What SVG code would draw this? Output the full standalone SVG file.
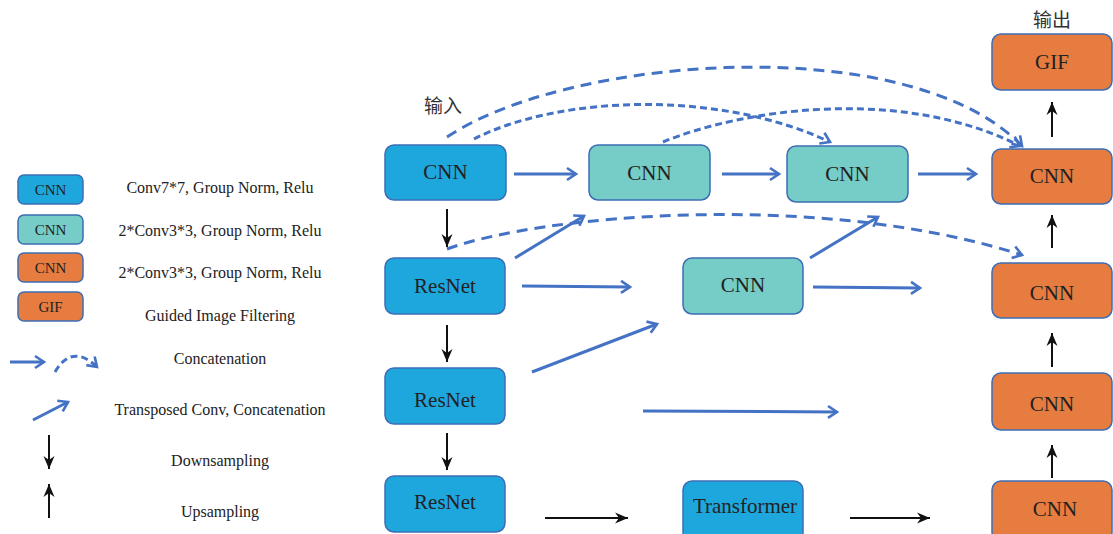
<svg xmlns="http://www.w3.org/2000/svg" width="1113" height="534" viewBox="0 0 1113 534">
<defs>
<marker id="chev" markerUnits="userSpaceOnUse" markerWidth="16" markerHeight="16" refX="12" refY="8" orient="auto"><path d="M3,2 L12,8 L3,14" fill="none" stroke="#4472C4" stroke-width="2.6"/></marker>
<marker id="tri" markerUnits="userSpaceOnUse" markerWidth="14" markerHeight="16" refX="13" refY="8" orient="auto"><path d="M0,2.5 L13,8 L0,13.5 L4,8 Z" fill="#111"/></marker>
<style>
.b{fill:#1EA7DD;stroke:#3D6DB5;stroke-width:1.5}
.t{fill:#76CCC6;stroke:#3D6DB5;stroke-width:1.5}
.o{fill:#E67C3F;stroke:#3D6DB5;stroke-width:1.5}
.nt{font-family:"Liberation Serif",serif;font-size:21px;fill:#222;text-anchor:middle;dominant-baseline:central}
.lt{font-family:"Liberation Serif",serif;font-size:15px;fill:#222;text-anchor:middle;dominant-baseline:central}
.ld{font-family:"Liberation Serif",serif;font-size:16px;fill:#222;text-anchor:middle;dominant-baseline:central}
.cj{font-family:"Noto Sans CJK SC",sans-serif;font-size:19px;fill:#333;text-anchor:middle}
.ba{stroke:#4472C4;stroke-width:3;fill:none;marker-end:url(#chev)}
.da{stroke:#4472C4;stroke-width:3;fill:none;stroke-dasharray:11,7;marker-end:url(#chev)}
.ds{stroke:#4472C4;stroke-width:3;fill:none;stroke-dasharray:7,4;marker-end:url(#chev)}
.ka{stroke:#111;stroke-width:2;fill:none;marker-end:url(#tri)}
</style>
</defs>
<rect width="1113" height="534" fill="#fff"/>

<g id="legend">
<rect x="18" y="175" width="65" height="29" rx="6" class="b"/><text x="50.5" y="190" class="lt">CNN</text>
<rect x="18" y="215" width="65" height="29" rx="6" class="t"/><text x="50.5" y="230" class="lt">CNN</text>
<rect x="18" y="253" width="65" height="29" rx="6" class="o"/><text x="50.5" y="268" class="lt">CNN</text>
<rect x="18" y="292" width="65" height="29" rx="6" class="o"/><text x="50.5" y="307" class="lt">GIF</text>
<text x="220" y="187" class="ld">Conv7*7, Group Norm, Relu</text>
<text x="220" y="230" class="ld">2*Conv3*3, Group Norm, Relu</text>
<text x="220" y="272" class="ld">2*Conv3*3, Group Norm, Relu</text>
<text x="220" y="315" class="ld">Guided Image Filtering</text>
<text x="220" y="358" class="ld">Concatenation</text>
<text x="220" y="409" class="ld">Transposed Conv, Concatenation</text>
<text x="220" y="460" class="ld">Downsampling</text>
<text x="220" y="511" class="ld">Upsampling</text>
<path d="M10,362 L44,362" class="ba"/>
<path d="M55,372 Q72,343 97,367" class="ds" stroke-width="2" stroke-dasharray="5,3"/>
<path d="M33,420 L68,402" class="ba"/>
<path d="M49,435 L49,469" class="ka"/>
<path d="M49,518 L49,484" class="ka"/>
</g>

<text x="443" y="113" class="cj">输入</text>
<text x="1052" y="27" class="cj">输出</text>

<g id="connectors">
<path d="M514,174 L576,174" class="ba"/>
<path d="M722,174 L779,174" class="ba"/>
<path d="M918,174 L976,174" class="ba"/>
<path d="M522,286 L630,287" class="ba"/>
<path d="M515,258 L584,216" class="ba"/>
<path d="M532,372 L657,324" class="ba"/>
<path d="M643,411 L837,412" class="ba"/>
<path d="M810,258 L878,217" class="ba"/>
<path d="M813,287 L920,288" class="ba"/>
<path d="M447,209 L447,247" class="ka"/>
<path d="M447,325 L447,362" class="ka"/>
<path d="M447,433 L447,470" class="ka"/>
<path d="M545,518 L628,518" class="ka"/>
<path d="M850,518 L930,518" class="ka"/>
<path d="M1052,137 L1052,102" class="ka"/>
<path d="M1052,248 L1052,215" class="ka"/>
<path d="M1052,367 L1052,333" class="ka"/>
<path d="M1052,478 L1052,445" class="ka"/>
<path d="M447,137 C570,55 910,30 1022,146" class="da"/>
<path d="M474,139 C560,95 720,90 830,142" class="ds"/>
<path d="M663,142 C740,110 900,85 1020,146" class="ds"/>
<path d="M447,249 C540,215 820,190 1022,255" class="da"/>
</g>

<g id="n_cnn_in"><rect x="385" y="145" width="121" height="55" rx="9" class="b"/><text x="445.5" y="172" class="nt">CNN</text></g>
<g id="n_teal1"><rect x="589" y="145" width="121" height="55" rx="9" class="t"/><text x="649.5" y="173" class="nt">CNN</text></g>
<g id="n_teal2"><rect x="787" y="146" width="121" height="56" rx="9" class="t"/><text x="847.5" y="174" class="nt">CNN</text></g>
<g id="n_out1"><rect x="992" y="149" width="120" height="55" rx="9" class="o"/><text x="1052" y="176" class="nt">CNN</text></g>
<g id="n_gif"><rect x="992" y="34" width="120" height="56" rx="9" class="o"/><text x="1052" y="62" class="nt">GIF</text></g>
<g id="n_res1"><rect x="385" y="258" width="120" height="56" rx="9" class="b"/><text x="445" y="286" class="nt">ResNet</text></g>
<g id="n_teal3"><rect x="683" y="258" width="120" height="56" rx="9" class="t"/><text x="743" y="285" class="nt">CNN</text></g>
<g id="n_out2"><rect x="992" y="263" width="120" height="55" rx="9" class="o"/><text x="1052" y="293" class="nt">CNN</text></g>
<g id="n_res2"><rect x="385" y="368" width="120" height="56" rx="9" class="b"/><text x="445" y="400" class="nt">ResNet</text></g>
<g id="n_out3"><rect x="992" y="373" width="120" height="57" rx="9" class="o"/><text x="1052" y="404" class="nt">CNN</text></g>
<g id="n_res3"><rect x="385" y="476" width="120" height="56" rx="9" class="b"/><text x="445" y="502" class="nt">ResNet</text></g>
<g id="n_trans"><rect x="683" y="481" width="120" height="60" rx="9" class="b"/><text x="745" y="506" class="nt">Transformer</text></g>
<g id="n_out4"><rect x="992" y="481" width="120" height="60" rx="9" class="o"/><text x="1055" y="509" class="nt">CNN</text></g>
</svg>
